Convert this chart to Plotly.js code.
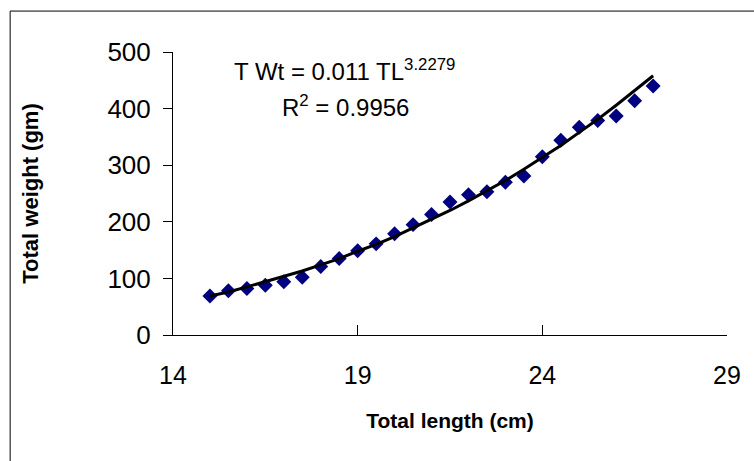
<!DOCTYPE html>
<html>
<head>
<meta charset="utf-8">
<script src="https://cdn.plot.ly/plotly-3.0.1.min.js"></script>
<style>html,body{margin:0;padding:0;background:#fff;}#chart{width:754px;height:461px;}</style>
</head>
<body>
<div id="chart"></div>
<script>
const lengthCm = [15,15.5,16,16.5,17,17.5,18,18.5,19,19.5,20,20.5,21,21.5,22,22.5,23,23.5,24,24.5,25,25.5,26,26.5,27];
const weightGm = [69,78,82,88,94,102,121,135,149,161,179,195,213,235,248,253,270,281,315,344,367,379,387,414,440];
const fittedGm = [69,76,85,94,103,113,124,135,148,160,174,189,204,220,237,255,273,293,314,335,358,381,406,432,458];
const xTicks = [14,19,24,29];
const yTicks = [0,100,200,300,400,500];

const font = 'Arial, "Liberation Sans", sans-serif';
const T = 52, B = 335.5, L = 173, R = 727.5;
const px = v => (v - L) / (R - L);
const py = v => (B - v) / (B - T);
const data = [
  {x: lengthCm, y: weightGm, type: 'scatter', mode: 'markers',
   marker: {symbol: 'diamond', size: 11.5, color: '#000080'}, showlegend: false},
  {x: lengthCm, y: fittedGm, type: 'scatter', mode: 'lines',
   line: {color: '#000000', width: 3}, showlegend: false}
];
const layout = {
  width: 754, height: 461,
  margin: {l: L, r: 754 - R, t: T, b: 461 - B},
  paper_bgcolor: '#ffffff', plot_bgcolor: '#ffffff',
  font: {family: font, color: '#000'},
  xaxis: {range: [14, 29], tickvals: xTicks, ticktext: xTicks.map(String),
    showgrid: false, zeroline: false, showline: true, linecolor: '#000', linewidth: 1,
    ticks: 'inside', ticklen: 10, tickcolor: '#000', tickfont: {size: 25, family: font},
    ticklabelstandoff: 18,
    title: {text: '<b>Total length (cm)</b>', font: {size: 21, family: font}, standoff: 25}},
  yaxis: {range: [0, 500], tickvals: yTicks, ticktext: yTicks.map(String),
    showgrid: false, zeroline: false, showline: true, linecolor: '#000', linewidth: 1,
    ticks: 'outside', ticklen: 9, tickcolor: '#000', tickfont: {size: 26, family: font},
    ticklabelstandoff: 7,
    title: {text: '<b>Total weight (gm)</b>', font: {size: 22, family: font}, standoff: 62}},
  annotations: [
    {xref: 'paper', yref: 'paper', x: px(345), y: py(70),
     text: 'T Wt = 0.011 TL<sup>3.2279</sup>', showarrow: false,
     font: {size: 24, family: font}, xanchor: 'center', yanchor: 'middle'},
    {xref: 'paper', yref: 'paper', x: px(346), y: py(106),
     text: 'R<sup>2</sup> = 0.9956', showarrow: false,
     font: {size: 24, family: font}, xanchor: 'center', yanchor: 'middle'}
  ],
  shapes: [
    {type: 'rect', xref: 'paper', yref: 'paper',
     x0: px(10), x1: 1.2, y0: -0.6, y1: py(11),
     line: {color: '#000', width: 1}, fillcolor: 'rgba(0,0,0,0)', layer: 'below'}
  ]
};
Plotly.newPlot('chart', data, layout, {displayModeBar: false, staticPlot: true});
</script>
</body>
</html>
